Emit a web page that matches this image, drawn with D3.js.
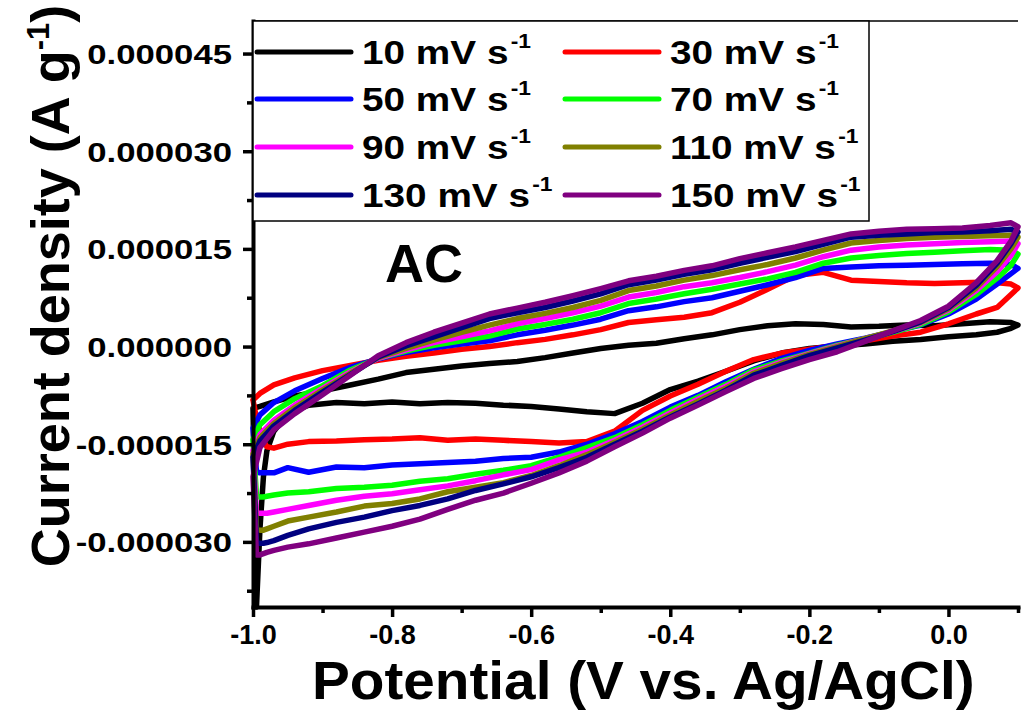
<!DOCTYPE html>
<html>
<head>
<meta charset="utf-8">
<script src="https://cdnjs.cloudflare.com/ajax/libs/d3/7.8.5/d3.min.js"></script>
<style>
	html, body { margin: 0; padding: 0; background: #fff; }
	svg { display: block; font-family: "Liberation Sans", Arial, sans-serif; font-weight: bold; }
</style>
</head>
<body>
<svg id="chart" width="1022" height="711"></svg>
<script>

// scan rates (mV s-1) and their colours
var scanRates = [10, 30, 50, 70, 90, 110, 130, 150];
var colours = ['#000000', '#ff0000', '#0000ff', '#00ff00', '#ff00ff', '#808000', '#000080', '#800080'];

// potential (V vs. Ag/AgCl) for the forward (anodic) and reverse (cathodic) sweeps
var potentialFwd = [-1.0, -0.99, -0.97, -0.94, -0.9, -0.86, -0.82, -0.78, -0.74, -0.7, -0.66, -0.62, -0.58, -0.54, -0.5, -0.46,
	-0.42, -0.38, -0.34, -0.3, -0.26, -0.22, -0.18, -0.14, -0.1, -0.06, -0.02, 0.02, 0.06, 0.09, 0.1];
var potentialRev = [0.1, 0.09, 0.07, 0.04, 0.0, -0.04, -0.08, -0.12, -0.16, -0.2, -0.24, -0.28, -0.32, -0.36, -0.4, -0.44, -0.48,
	-0.52, -0.56, -0.6, -0.64, -0.68, -0.72, -0.76, -0.8, -0.84, -0.88, -0.92, -0.95, -0.97, -0.98, -0.985, -0.99, -0.995];

// current density, in units of 1e-6 A g-1
var fwd10 = [-9.5, -9.2, -8.5, -7.6, -6.8, -5.9, -5.0, -4.0, -3.5, -3.0, -2.6, -2.3, -1.7, -1.0, -0.3, 0.2, 0.5, 1.2, 1.8, 2.6, 3.2, 3.5, 3.4, 3.0, 3.1, 3.3, 3.2, 3.5, 3.8, 3.7, 3.3];
var rev10 = [3.3, 2.8, 2.2, 1.8, 1.5, 1.1, 0.8, 0.4, 0.1, -0.3, -1.0, -2.2, -3.8, -5.3, -6.6, -8.7, -10.3, -10.0, -9.6, -9.2, -9.0, -8.7, -8.6, -8.8, -8.5, -8.8, -8.6, -9.0, -10.3, -13.0, -16.0, -20.0, -28.0, -40.0];

var fwd30 = [-8.2, -7.2, -5.9, -4.8, -3.7, -2.9, -2.1, -1.5, -1.0, -0.4, 0.0, 0.6, 1.1, 1.8, 2.6, 3.7, 4.1, 4.5, 5.2, 6.8, 8.8, 10.9, 11.4, 10.2, 10.0, 9.8, 9.7, 9.8, 9.9, 9.6, 9.0];
var rev30 = [9.0, 8.0, 6.0, 5.0, 3.5, 2.2, 1.6, 0.9, 0.2, -0.4, -1.0, -2.0, -3.8, -5.8, -7.6, -9.8, -13.0, -14.6, -14.8, -14.6, -14.4, -14.2, -14.4, -14.0, -14.2, -14.3, -14.5, -14.6, -15.0, -15.6, -15.4, -14.5, -13.0, -11.0];

var fwd50 = [-12.5, -10.5, -8.6, -6.8, -4.9, -3.2, -1.9, -0.9, -0.2, 0.4, 0.9, 1.8, 2.5, 3.3, 4.2, 5.5, 6.1, 6.9, 7.5, 8.5, 9.5, 10.6, 12.0, 12.2, 12.4, 12.5, 12.6, 12.7, 12.8, 12.6, 12.0];
var rev50 = [12.0, 11.2, 9.6, 7.3, 5.0, 3.3, 2.3, 1.3, 0.4, -0.6, -1.8, -3.5, -5.4, -7.5, -9.3, -11.5, -13.4, -15.0, -16.2, -17.0, -17.2, -17.6, -17.8, -18.0, -18.2, -18.6, -18.5, -19.3, -18.6, -19.4, -19.4, -19.4, -19.4, -19.2];

var fwd70 = [-14.3, -12.0, -10.0, -8.0, -6.0, -3.6, -1.8, -0.7, 0.2, 0.9, 1.6, 2.7, 3.4, 4.2, 5.2, 6.6, 7.3, 8.1, 8.8, 9.6, 10.4, 11.4, 12.8, 13.6, 14.0, 14.3, 14.5, 14.7, 14.9, 14.8, 14.2];
var rev70 = [14.2, 12.5, 10.5, 8.0, 5.3, 3.4, 2.2, 1.2, 0.2, -1.0, -2.2, -3.6, -5.8, -7.8, -9.8, -12.0, -14.0, -15.5, -17.0, -18.3, -19.0, -19.6, -20.3, -20.7, -21.3, -21.6, -21.8, -22.3, -22.5, -22.8, -23.0, -23.1, -23.1, -23.0];

var fwd90 = [-16.0, -13.5, -11.3, -9.0, -6.4, -3.9, -1.8, -0.5, 0.6, 1.5, 2.4, 3.5, 4.3, 5.2, 6.2, 7.6, 8.3, 9.2, 9.8, 10.6, 11.5, 12.5, 13.8, 14.8, 15.3, 15.6, 15.8, 16.0, 16.1, 16.2, 15.8];
var rev90 = [15.8, 14.0, 11.5, 8.6, 5.6, 3.6, 2.3, 1.2, 0.1, -1.1, -2.4, -3.9, -6.1, -8.1, -10.2, -12.4, -14.4, -16.2, -17.4, -18.9, -19.7, -20.6, -21.4, -22.0, -22.6, -23.0, -23.6, -24.4, -25.0, -25.4, -25.6, -25.6, -25.6, -25.5];

var fwd110 = [-16.5, -14.0, -11.8, -9.4, -6.7, -4.1, -1.7, -0.3, 1.0, 2.2, 3.3, 4.3, 5.1, 6.0, 7.1, 8.6, 9.3, 10.2, 10.9, 11.8, 12.6, 13.6, 14.8, 15.9, 16.3, 16.6, 16.8, 16.9, 17.0, 17.1, 16.8];
var rev110 = [16.8, 15.0, 12.3, 9.0, 5.8, 3.7, 2.4, 1.2, 0.0, -1.2, -2.6, -4.1, -6.4, -8.4, -10.5, -12.7, -14.7, -16.6, -18.3, -19.8, -20.9, -21.6, -22.3, -23.4, -24.1, -24.5, -25.4, -26.2, -26.8, -27.6, -28.0, -28.2, -28.2, -28.1];

var fwd130 = [-17.0, -14.5, -12.2, -9.8, -7.0, -4.3, -1.6, 0.1, 1.5, 2.9, 4.3, 5.2, 6.0, 7.0, 8.1, 9.5, 10.2, 11.1, 11.8, 12.8, 13.7, 14.6, 15.7, 16.8, 17.1, 17.3, 17.5, 17.6, 17.8, 18.0, 17.6];
var rev130 = [17.6, 15.8, 12.8, 9.4, 6.0, 3.8, 2.3, 1.0, -0.2, -1.4, -2.9, -4.4, -6.7, -8.8, -10.8, -13.0, -15.0, -17.0, -18.6, -20.0, -21.1, -22.1, -23.4, -24.4, -25.2, -26.2, -27.0, -28.0, -29.0, -29.8, -30.1, -30.2, -30.2, -30.1];

var fwd150 = [-20.0, -15.5, -12.8, -10.3, -7.4, -4.4, -1.4, 0.6, 2.2, 3.6, 5.0, 5.9, 6.8, 7.8, 8.9, 10.1, 10.8, 11.7, 12.4, 13.5, 14.4, 15.3, 16.3, 17.3, 17.7, 18.0, 18.1, 18.2, 18.6, 19.0, 18.4];
var rev150 = [18.4, 16.2, 13.2, 9.8, 6.2, 4.0, 2.4, 0.8, -0.8, -2.0, -3.4, -4.9, -6.9, -9.0, -11.0, -13.3, -15.4, -17.6, -19.4, -21.0, -22.5, -23.6, -25.0, -26.5, -27.6, -28.5, -29.4, -30.3, -30.8, -31.3, -31.6, -31.8, -32.0, -32.0];

// axis ticks
var xMajor = [-1.0, -0.8, -0.6, -0.4, -0.2, 0.0];
var xMinor = [-0.9, -0.7, -0.5, -0.3, -0.1, 0.1];
var yMajor = [-30, -15, 0, 15, 30, 45];
var yMinor = [-37.5, -22.5, -7.5, 7.5, 22.5, 37.5];

var forward = [fwd10, fwd30, fwd50, fwd70, fwd90, fwd110, fwd130, fwd150];
var reverse = [rev10, rev30, rev50, rev70, rev90, rev110, rev130, rev150];

var svg = d3.select('#chart');

var x = d3.scaleLinear().domain([-1.0, 0.1]).range([253, 1018]);
var y = d3.scaleLinear().domain([-40, 50]).range([607, 21]);

// top frame line
svg.append('line')
	.attr('x1', x(-1.0)).attr('x2', x(0.1))
	.attr('y1', y(50)).attr('y2', y(50))
	.attr('stroke', '#000').attr('stroke-width', 1.5);

// curves, one closed loop each
var line = d3.line()
	.x(function(d){ return x(d[0]); })
	.y(function(d){ return y(d[1]); });

var loops = scanRates.map(function(r, i) {
	var pts = potentialFwd.map(function(v, j){ return [v, forward[i][j]]; })
		.concat(potentialRev.map(function(v, j){ return [v, reverse[i][j]]; }));
	pts.push(pts[0]);
	return {rate: r, colour: colours[i], pts: pts};
});

svg.append('g').attr('class', 'curves')
	.selectAll('path')
	.data(loops)
	.enter().append('path')
	.attr('d', function(d){ return line(d.pts); })
	.attr('fill', 'none')
	.attr('stroke', function(d){ return d.colour; })
	.attr('stroke-width', 5.5)
	.attr('stroke-linejoin', 'round')
	.attr('stroke-linecap', 'round');

// axes
function styleAxis(g) {
	g.select('.domain').attr('stroke-width', 4).attr('stroke-linecap', 'square');
	g.selectAll('.tick line').attr('stroke-width', 3.5);
}

var xg = svg.append('g')
	.attr('transform', 'translate(0,' + y(-40) + ')')
	.call(d3.axisBottom(x).tickValues(xMajor).tickSize(10).tickSizeOuter(0)
		.tickFormat(function(d){ return d.toFixed(1); }))
	.call(styleAxis);
xg.selectAll('.tick text')
	.attr('y', 37).attr('dy', 0)
	.attr('fill', '#000')
	.style('font-size', '27px').style('font-weight', 'bold');

svg.append('g')
	.attr('transform', 'translate(0,' + y(-40) + ')')
	.call(d3.axisBottom(x).tickValues(xMinor).tickSize(6).tickSizeOuter(0).tickFormat(''))
	.call(function(g){ g.select('.domain').remove(); })
	.selectAll('.tick line').attr('stroke-width', 3.5);

var yg = svg.append('g')
	.attr('transform', 'translate(' + x(-1.0) + ',0)')
	.call(d3.axisLeft(y).tickValues(yMajor).tickSize(10).tickSizeOuter(0)
		.tickFormat(function(d){ return (d * 1e-6).toFixed(6); }))
	.call(styleAxis);
yg.selectAll('.tick text')
	.attr('x', 0).attr('dy', '0.36em')
	.attr('transform', 'translate(-21,0) scale(1.24,1)')
	.attr('fill', '#000')
	.style('font-size', '28px').style('font-weight', 'bold');

svg.append('g')
	.attr('transform', 'translate(' + x(-1.0) + ',0)')
	.call(d3.axisLeft(y).tickValues(yMinor).tickSize(6).tickSizeOuter(0).tickFormat(''))
	.call(function(g){ g.select('.domain').remove(); })
	.selectAll('.tick line').attr('stroke-width', 3.5);

// axis titles
svg.append('text')
	.attr('transform', 'translate(312,699) scale(1.05,1)')
	.style('font-size', '54px')
	.text('Potential (V vs. Ag/AgCl)');

var yTitle = svg.append('text')
	.attr('transform', 'translate(69,286) rotate(-90)')
	.attr('text-anchor', 'middle')
	.style('font-size', '54px');
yTitle.append('tspan').text('Current density (A g');
yTitle.append('tspan').attr('dy', -20).style('font-size', '31px').text('-1');
yTitle.append('tspan').attr('dy', 20).text(')');

// sample label
svg.append('text')
	.attr('x', 385).attr('y', 282)
	.style('font-size', '54px')
	.text('AC');

// legend
var legend = svg.append('g').attr('class', 'legend');
legend.append('rect')
	.attr('x', 253).attr('y', 21)
	.attr('width', 616).attr('height', 200)
	.attr('fill', '#fff').attr('stroke', '#000').attr('stroke-width', 1.5);

var rowY = [52, 99, 147, 195];
var colX = [257, 565];

var items = legend.selectAll('g.item')
	.data(loops)
	.enter().append('g')
	.attr('class', 'item')
	.attr('transform', function(d, i){
		return 'translate(' + colX[i % 2] + ',' + rowY[Math.floor(i / 2)] + ')';
	});

items.append('line')
	.attr('x1', 0).attr('x2', 94)
	.attr('stroke', function(d){ return d.colour; })
	.attr('stroke-width', 5)
	.attr('stroke-linecap', 'round');

var labels = items.append('text')
	.attr('transform', 'translate(105,12) scale(1.14,1)')
	.style('font-size', '34px');
labels.append('tspan').text(function(d){ return d.rate + ' mV s'; });
labels.append('tspan').attr('dx', 2).attr('dy', -16).style('font-size', '20px').text('-1');

</script>
</body>
</html>
